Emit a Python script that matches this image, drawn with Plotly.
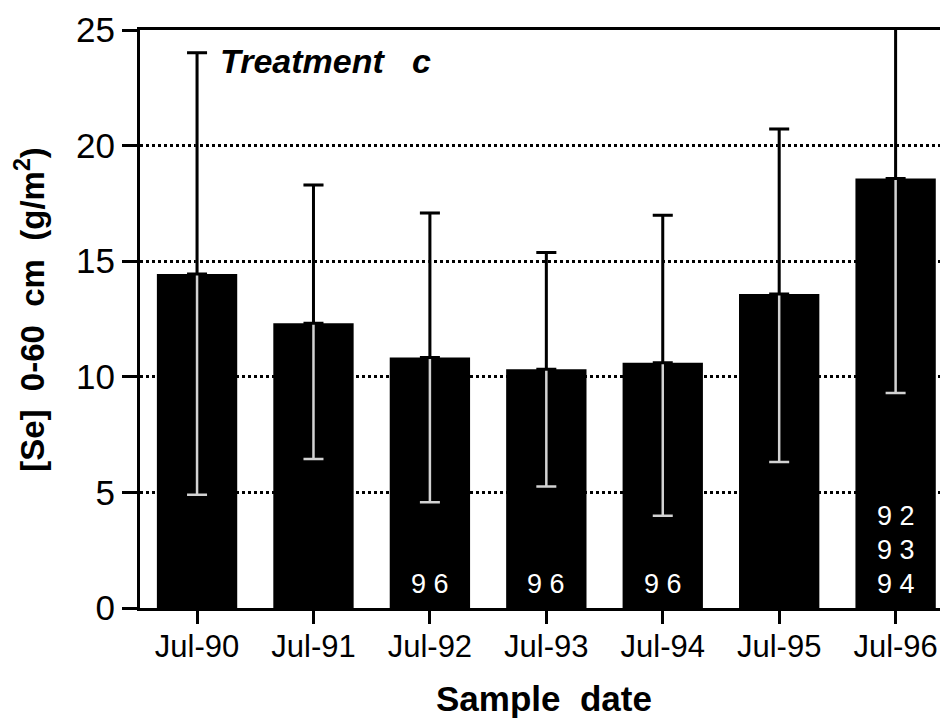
import plotly.graph_objects as go

# values (Treatment c)
dates = ['Jul-90', 'Jul-91', 'Jul-92', 'Jul-93', 'Jul-94', 'Jul-95', 'Jul-96']
se_mean = [14.45, 12.32, 10.84, 10.33, 10.61, 13.58, 18.58]
err_plus = [9.57, 5.98, 6.24, 5.05, 6.38, 7.14, 9.28]
err_minus = [9.55, 5.87, 6.27, 5.07, 6.62, 7.26, 9.28]
# years a date differs from (printed inside the bars)
sig_years = [[], [], ['96'], ['96'], ['96'], [], ['92', '93', '94']]

font = 'Liberation Sans, Arial, sans-serif'
nb = '\u00a0'

fig = go.Figure()

# black bars, light error bar running down inside the bar
fig.add_trace(go.Bar(
    x=dates, y=se_mean, width=0.69, marker=dict(color='black', line_width=0),
    error_y=dict(type='data', symmetric=False, array=err_plus, arrayminus=err_minus,
                 color='#d2d2d2', thickness=2.5, width=10),
    showlegend=False))

# black upper half of the error bar, drawn over the light one
fig.add_trace(go.Bar(
    x=dates, y=se_mean, width=0.69, marker=dict(color='rgba(0,0,0,0)', line_width=0),
    error_y=dict(type='data', symmetric=False, array=err_plus, arrayminus=[0] * len(dates),
                 color='black', thickness=3, width=10),
    showlegend=False))

annots = []
for d, years in zip(dates, sig_years):
    for k, yr in enumerate(reversed(years)):
        annots.append(dict(x=d, y=0, xref='x', yref='y', text=nb.join(yr),
                           showarrow=False, yanchor='middle', yshift=24 + 34 * k,
                           font=dict(family=font, size=27, color='white')))

annots.append(dict(x=0.097, y=0.946, xref='paper', yref='paper', xanchor='left', yanchor='middle',
                   text='<b><i>Treatment' + nb * 3 + 'c</i></b>', showarrow=False,
                   font=dict(family=font, size=34, color='black')))
annots.append(dict(x=0.5, y=-0.156, xref='paper', yref='paper', xanchor='center', yanchor='middle',
                   text='<b>Sample' + nb * 2 + 'date</b>', showarrow=False,
                   font=dict(family=font, size=35, color='black')))
annots.append(dict(x=-0.136, y=0.516, xref='paper', yref='paper', xanchor='center', yanchor='middle',
                   textangle=-90, showarrow=False,
                   text='<b>[Se]' + nb * 2 + '0-60' + nb * 2 + 'cm' + nb * 2 + '(g/m<sup>2</sup>)</b>',
                   font=dict(family=font, size=33, color='black')))

# page body has an 8px margin, so the figure is 8px smaller and margins shifted
fig.update_layout(
    width=940, height=713,
    margin=dict(l=132, r=0, t=22, b=113),
    paper_bgcolor='white', plot_bgcolor='white',
    barmode='overlay',
    font=dict(family=font, color='black'),
    annotations=annots,
    xaxis=dict(range=[-0.49, 6.45], showline=True, linecolor='black', linewidth=3, mirror=True,
               ticks='outside', ticklen=13, tickwidth=3, tickcolor='black',
               tickfont=dict(size=31), ticklabelstandoff=-4, showgrid=False),
    yaxis=dict(range=[0, 25], dtick=5, showline=True, linecolor='black', linewidth=3,
               ticks='outside', ticklen=15, tickwidth=3, tickcolor='black',
               tickfont=dict(size=35), ticklabelstandoff=0,
               showgrid=True, gridcolor='black', gridwidth=2.5, griddash='dot',
               zeroline=False),
)

fig.write_html('out.html')
